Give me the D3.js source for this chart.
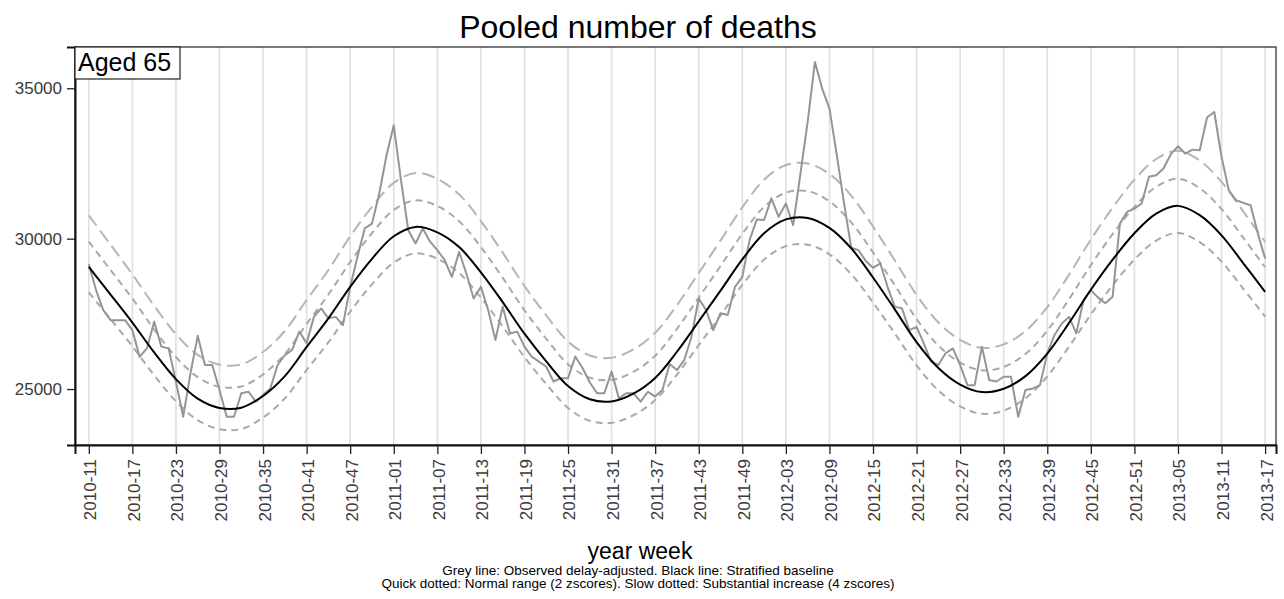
<!DOCTYPE html>
<html>
<head>
<meta charset="utf-8">
<script src="https://cdn.jsdelivr.net/npm/d3@7"></script>
<style>
  body { margin: 0; background: #fff; }
  svg text { font-family: "Liberation Sans", Arial, sans-serif; }
</style>
</head>
<body>
<svg width="1284" height="599"></svg>
<script>
const weekLabels = ['2010-11','2010-17','2010-23','2010-29','2010-35','2010-41','2010-47',
  '2011-01','2011-07','2011-13','2011-19','2011-25','2011-31','2011-37','2011-43','2011-49',
  '2012-03','2012-09','2012-15','2012-21','2012-27','2012-33','2012-39','2012-45','2012-51',
  '2013-05','2013-11','2013-17'];

// weekly observed (delay-adjusted), starting 2010-11
const observed = [
  29150,28290,27620,27290,27290,27290,26960,26070,26350,27240,
  26410,26350,25240,24080,25520,26770,25800,25800,24970,24080,
  24080,24860,24910,24580,24800,25020,25800,26130,26300,26910,
  26520,27400,27680,27350,27400,27130,28400,29400,30340,30500,
  31500,32770,33770,31940,30280,29840,30340,29900,29620,29290,
  28730,29560,28840,28010,28400,27630,26630,27740,26850,26910,
  26410,26080,25910,25740,25250,25360,25360,26080,25700,25220,
  24860,24860,25580,24690,24860,24860,24580,24910,24750,24970,
  25830,25630,25960,26740,28010,27630,26960,27520,27460,28400,
  28730,29950,30640,30620,31340,30730,31170,30450,32150,33880,
  35870,34990,34330,32800,31200,29700,29620,29260,29030,29180,
  28400,27740,27680,26960,27070,26520,25910,25800,26190,26350,
  25800,25130,25130,26410,25300,25250,25410,25410,24080,24970,
  25020,25130,26190,26800,27180,27400,26850,27960,28290,28040,
  27850,28070,30500,30890,31000,31170,32060,32110,32330,32800,
  33070,32830,32960,32940,34030,34210,32720,31610,31280,31190,
  31110,30170,29340
];

// smooth lines, read every 3rd week (0, 3, 6, ... 162)
const baseline = [
  29060,28140,27210,26220,25330,24680,24370,24380,24770,25430,
  26400,27350,28400,29330,30080,30390,30210,29720,28880,27890,
  26840,25920,25100,24660,24590,24850,25370,26240,27250,28270,
  29310,30180,30640,30690,30360,29680,28710,27650,26560,25700,
  25150,24900,25010,25430,26180,27200,28300,29300,30180,30830,
  31090,30780,30110,29180,28230
];
const upper4 = [
  30775,29800,28815,27770,26825,26135,25810,25820,26230,26930,
  27960,28960,30075,31060,31855,32185,31990,31470,30585,29535,
  28425,27450,26580,26115,26040,26316,26867,27788,28858,29938,
  31039,31961,32448,32501,32151,31431,30404,29281,28127,27216,
  26634,26369,26486,26930,27725,28805,29970,31029,31961,32649,
  32924,32596,31886,30902,29896
];
const upper2 = [
  29903,28956,28009,26980,26065,25396,25077,25087,25488,26167,
  27166,28143,29224,30181,30952,31271,31086,30582,29718,28699,
  27618,26672,25828,25375,25303,25571,26106,27001,28040,29090,
  30160,31055,31529,31580,31240,30541,29543,28452,27330,26445,
  25879,25622,25735,26167,26939,27989,29121,30150,31055,31724,
  31992,31673,30983,30026,29049
];
const lower2 = [
  28217,27324,26421,25460,24595,23964,23663,23673,24052,24693,
  25634,26557,27576,28479,29208,29509,29334,28858,28042,27081,
  26062,25168,24372,23945,23877,24129,24634,25479,26460,27450,
  28460,29305,29751,29800,29480,28819,27877,26848,25790,24955,
  24421,24178,24285,24693,25421,26411,27479,28450,29305,29936,
  30188,29887,29237,28334,27411
];
const yTicks = [25000, 30000, 35000];

const svg = d3.select('svg');
const width = +svg.attr('width');

const plot = {left: 75, right: 1276, top: 47, bottom: 445};

const xScale = d3.scaleLinear()
  .domain([-1.9, 163.5])
  .range([plot.left, plot.right]);

const yScale = d3.scaleLinear()
  .domain([23140, 36372])
  .range([plot.bottom, plot.top]);

svg.append('defs').append('clipPath').attr('id', 'clip')
  .append('rect')
  .attr('x', plot.left).attr('y', plot.top)
  .attr('width', plot.right - plot.left).attr('height', plot.bottom - plot.top);

// vertical grid
const tickIdx = weekLabels.map((d, i) => i * 6);
svg.append('g')
  .selectAll('line').data(tickIdx).join('line')
  .attr('x1', d => xScale(d)).attr('x2', d => xScale(d))
  .attr('y1', plot.top).attr('y2', plot.bottom)
  .attr('stroke', '#e2dfdf')
  .attr('stroke-width', 1.7);

const g = svg.append('g').attr('clip-path', 'url(#clip)');

const smoothLine = d3.line()
  .x((d, i) => xScale(i * 3))
  .y(d => yScale(d))
  .curve(d3.curveCatmullRom);

g.append('path').attr('d', smoothLine(upper4))
  .attr('fill', 'none').attr('stroke', '#b5b5b5')
  .attr('stroke-width', 2).attr('stroke-dasharray', '13,6');

g.append('path').attr('d', smoothLine(upper2))
  .attr('fill', 'none').attr('stroke', '#a9a9a9')
  .attr('stroke-width', 2).attr('stroke-dasharray', '7,5');

g.append('path').attr('d', smoothLine(lower2))
  .attr('fill', 'none').attr('stroke', '#a9a9a9')
  .attr('stroke-width', 2).attr('stroke-dasharray', '7,5');

const obsLine = d3.line()
  .x((d, i) => xScale(i))
  .y(d => yScale(d));

g.append('path').attr('d', obsLine(observed))
  .attr('fill', 'none').attr('stroke', '#959595')
  .attr('stroke-width', 2).attr('stroke-linejoin', 'round');

g.append('path').attr('d', smoothLine(baseline))
  .attr('fill', 'none').attr('stroke', '#000')
  .attr('stroke-width', 2);

// frame
svg.append('rect')
  .attr('x', plot.left).attr('y', plot.top)
  .attr('width', plot.right - plot.left).attr('height', plot.bottom - plot.top)
  .attr('fill', 'none').attr('stroke', '#333').attr('stroke-width', 1.3);

// axes
const yAxis = d3.axisLeft(yScale)
  .tickValues(yTicks)
  .tickSize(8)
  .tickPadding(5)
  .tickFormat(d3.format('d'));

const yAxisG = svg.append('g')
  .attr('transform', `translate(${plot.left},0)`)
  .call(yAxis);
yAxisG.select('.domain').attr('stroke', '#111').attr('stroke-width', 2);
yAxisG.selectAll('.tick line').attr('stroke', '#222').attr('stroke-width', 1.3);
yAxisG.selectAll('.tick text')
  .attr('font-size', 17).attr('fill', '#3a3a3a')
  .style('font-family', '"Liberation Sans", Arial, sans-serif');

const xAxis = d3.axisBottom(xScale)
  .tickValues(tickIdx)
  .tickSize(9)
  .tickFormat((d, i) => weekLabels[i]);

const xAxisG = svg.append('g')
  .attr('transform', `translate(0,${plot.bottom})`)
  .call(xAxis);
xAxisG.select('.domain').attr('stroke', '#111').attr('stroke-width', 2);
xAxisG.selectAll('.tick line').attr('stroke', '#222').attr('stroke-width', 1.3);
xAxisG.selectAll('.tick text')
  .attr('font-size', 17).attr('fill', '#3a3a3a')
  .style('font-family', '"Liberation Sans", Arial, sans-serif')
  .attr('text-anchor', 'end')
  .attr('dy', '0.35em')
  .attr('x', 0).attr('y', 0)
  .attr('transform', 'translate(1,14) rotate(-90)');

// panel label
svg.append('rect')
  .attr('x', plot.left).attr('y', plot.top)
  .attr('width', 105).attr('height', 32)
  .attr('fill', '#fff').attr('stroke', '#222').attr('stroke-width', 1.2);
svg.append('text')
  .attr('x', plot.left + 3).attr('y', plot.top + 24)
  .attr('font-size', 25)
  .text('Aged 65');

// titles
svg.append('text')
  .attr('x', 638).attr('y', 38)
  .attr('text-anchor', 'middle')
  .attr('font-size', 32)
  .text('Pooled number of deaths');

svg.append('text')
  .attr('x', 640).attr('y', 559)
  .attr('text-anchor', 'middle')
  .attr('font-size', 23)
  .text('year week');

svg.append('text')
  .attr('x', 638).attr('y', 575)
  .attr('text-anchor', 'middle')
  .attr('font-size', 13.5)
  .text('Grey line: Observed delay-adjusted. Black line: Stratified baseline');

svg.append('text')
  .attr('x', 638).attr('y', 588)
  .attr('text-anchor', 'middle')
  .attr('font-size', 13.5)
  .text('Quick dotted: Normal range (2 zscores). Slow dotted: Substantial increase (4 zscores)');
</script>
</body>
</html>
